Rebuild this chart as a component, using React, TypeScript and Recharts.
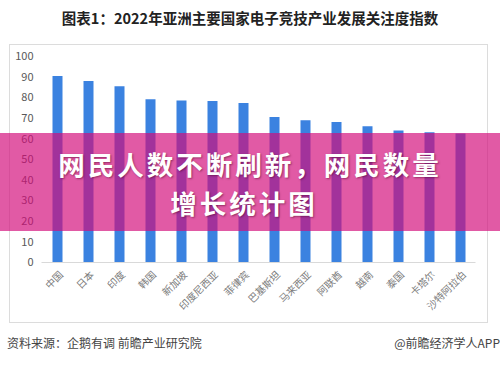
import React from 'react';
import { BarChart, Bar, XAxis, YAxis } from 'recharts';

// categories and attention index values
const countries = ['中国', '日本', '印度', '韩国', '新加坡', '印度尼西亚', '菲律宾', '巴基斯坦', '马来西亚', '阿联酋', '越南', '泰国', '卡塔尔', '沙特阿拉伯'];
const indexValues = [90.3, 87.9, 85.3, 79.0, 78.5, 78.2, 77.3, 70.5, 68.9, 68.0, 66.0, 63.9, 63.1, 62.5];
const yTicks = [0, 10, 20, 30, 40, 50, 60, 70, 80, 90, 100];

const data = countries.map((name, i) => ({ name, value: indexValues[i] }));

const RotatedTick = (props: any) => {
  const { x, y, payload } = props;
  return (
    <g transform={`translate(${x + 4},${y + 2})`}>
      <text
        x={0}
        y={0}
        dy={4}
        textAnchor="end"
        transform="rotate(-45)"
        fill="#7a7a7a"
        fontSize={10}
        fontFamily="'Noto Sans CJK SC', sans-serif"
      >
        {payload.value}
      </text>
    </g>
  );
};

const bannerLine: React.CSSProperties = {
  position: 'absolute',
  left: 0,
  width: 500,
  height: 39,
  textAlign: 'center',
  color: '#ffffff',
  fontSize: 26.5,
  letterSpacing: 3,
  fontWeight: 'bold',
  lineHeight: '39px',
  whiteSpace: 'nowrap',
  textShadow: '1px 1px 2px rgba(80,0,40,0.5)',
};

const App: React.FC = () => {
  return (
    <div
      style={{
        position: 'absolute',
        left: 0,
        top: 0,
        width: 500,
        height: 365,
        background: '#ffffff',
        overflow: 'hidden',
        fontFamily: "'Noto Sans CJK SC', sans-serif",
      }}
    >
      {/* title */}
      <div
        style={{
          position: 'absolute',
          top: 8,
          left: 0,
          width: 500,
          textAlign: 'center',
          fontSize: 14.5,
          fontWeight: 'bold',
          color: '#222',
          lineHeight: '20px',
        }}
      >
        图表1：2022年亚洲主要国家电子竞技产业发展关注度指数
      </div>

      {/* chart frame */}
      <div
        style={{
          position: 'absolute',
          left: 9,
          top: 44,
          width: 479,
          height: 279,
          boxSizing: 'border-box',
          border: '1px solid #dcdcdc',
        }}
      />

      <div style={{ position: 'absolute', left: 9, top: 44 }}>
        <BarChart
          width={479}
          height={279}
          data={data}
          margin={{ top: 12, right: 12.5, left: 0, bottom: 0 }}
          barSize={10}
        >
          <XAxis
            dataKey="name"
            interval={0}
            tickLine={false}
            axisLine={{ stroke: '#d9d9d9' }}
            tick={<RotatedTick />}
            height={60.5}
          />
          <YAxis
            domain={[0, 100]}
            ticks={yTicks}
            interval={0}
            width={32.5}
            axisLine={false}
            tickLine={false}
            tick={{ fill: '#595959', fontSize: 11 }}
          />
          <Bar dataKey="value" fill="#3b82e0" isAnimationActive={false} />
        </BarChart>
      </div>

      {/* pink banner overlay */}
      <div
        style={{
          position: 'absolute',
          left: 0,
          top: 133,
          width: 500,
          height: 98,
          background: 'rgba(211, 12, 123, 0.68)',
        }}
      />
      <div style={{ ...bannerLine, top: 143.5 }}>网民人数不断刷新，网民数量</div>
      <div style={{ ...bannerLine, top: 182.5, left: -6 }}>增长统计图</div>

      {/* footer */}
      <div
        style={{
          position: 'absolute',
          left: 7,
          top: 335,
          fontSize: 12,
          color: '#444',
          lineHeight: '16px',
          whiteSpace: 'nowrap',
        }}
      >
        资料来源：企鹅有调 前瞻产业研究院
      </div>
      <div
        style={{
          position: 'absolute',
          right: 0,
          top: 335,
          fontSize: 12,
          color: '#444',
          lineHeight: '16px',
          whiteSpace: 'nowrap',
        }}
      >
        @前瞻经济学人APP
      </div>
    </div>
  );
};

export default App;
